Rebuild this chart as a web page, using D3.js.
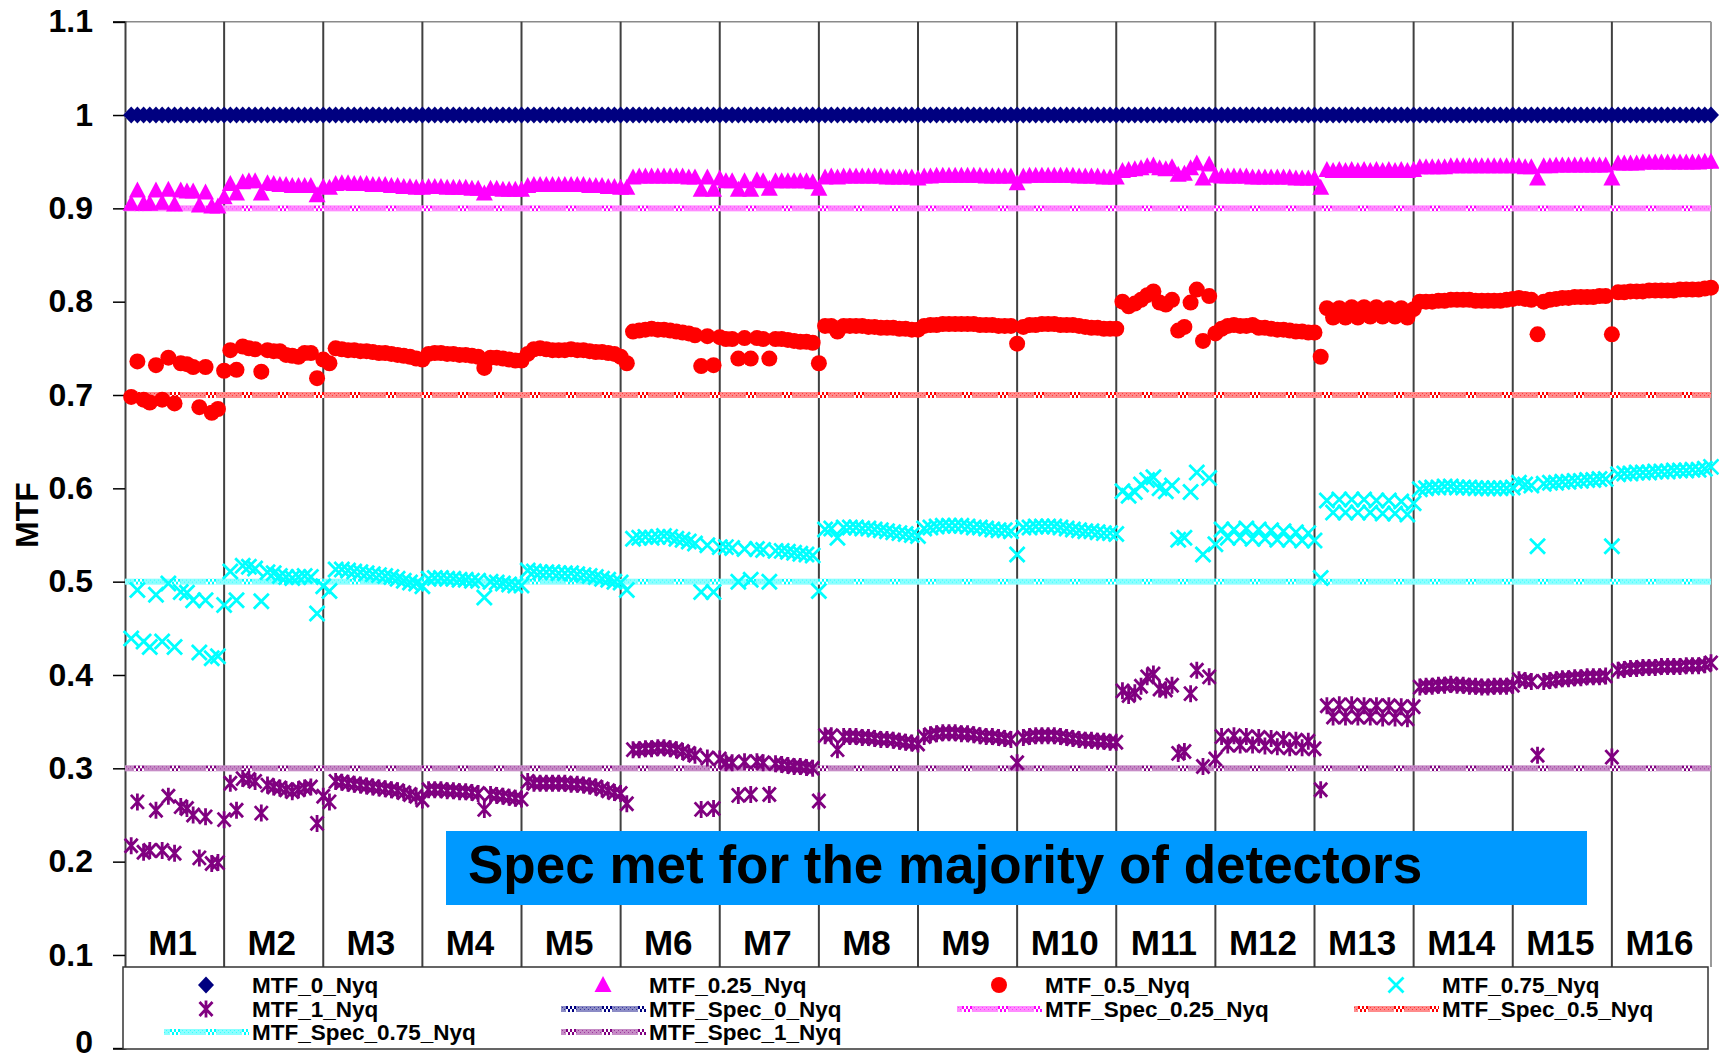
<!DOCTYPE html>
<html>
<head>
<meta charset="utf-8">
<script src="https://cdn.jsdelivr.net/npm/d3@7"></script>
<style>
  html, body { margin: 0; padding: 0; background: #fff; }
  svg { display: block; font-family: "Liberation Sans", Arial, Helvetica, sans-serif; font-weight: bold; }
</style>
</head>
<body>
<svg id="chart" width="1719" height="1060"></svg>
<script>
// Band names (16 detectors per band, detector index 1..256 across the x axis)
const bands = ["M1","M2","M3","M4","M5","M6","M7","M8","M9","M10","M11","M12","M13","M14","M15","M16"];
const yTicks = [0, 0.1, 0.2, 0.3, 0.4, 0.5, 0.6, 0.7, 0.8, 0.9, 1.0, 1.1];

// Measured MTF per detector, band by band
const mtf0 = [
  1,1,1,1,1,1,1,1,1,1,1,1,1,1,1,1,
  1,1,1,1,1,1,1,1,1,1,1,1,1,1,1,1,
  1,1,1,1,1,1,1,1,1,1,1,1,1,1,1,1,
  1,1,1,1,1,1,1,1,1,1,1,1,1,1,1,1,
  1,1,1,1,1,1,1,1,1,1,1,1,1,1,1,1,
  1,1,1,1,1,1,1,1,1,1,1,1,1,1,1,1,
  1,1,1,1,1,1,1,1,1,1,1,1,1,1,1,1,
  1,1,1,1,1,1,1,1,1,1,1,1,1,1,1,1,
  1,1,1,1,1,1,1,1,1,1,1,1,1,1,1,1,
  1,1,1,1,1,1,1,1,1,1,1,1,1,1,1,1,
  1,1,1,1,1,1,1,1,1,1,1,1,1,1,1,1,
  1,1,1,1,1,1,1,1,1,1,1,1,1,1,1,1,
  1,1,1,1,1,1,1,1,1,1,1,1,1,1,1,1,
  1,1,1,1,1,1,1,1,1,1,1,1,1,1,1,1,
  1,1,1,1,1,1,1,1,1,1,1,1,1,1,1,1,
  1,1,1,1,1,1,1,1,1,1,1,1,1,1,1,1
];
const mtf025 = [
  .905,.919,.905,.905,.919,.906,.920,.904,.919,.918,.918,.903,.917,.902,.902,.912,
  .926,.916,.928,.929,.929,.916,.927,.926,.925,.925,.924,.924,.924,.924,.914,.923,
  .922,.926,.927,.927,.926,.926,.926,.925,.925,.925,.924,.924,.923,.923,.922,.922,
  .923,.923,.923,.922,.922,.922,.922,.921,.921,.916,.921,.921,.920,.920,.920,.920,
  .924,.925,.925,.925,.925,.925,.925,.925,.925,.925,.924,.924,.924,.923,.923,.922,
  .922,.933,.934,.934,.934,.934,.934,.934,.934,.934,.933,.933,.920,.933,.920,.932,
  .929,.929,.920,.929,.920,.930,.929,.921,.929,.929,.929,.929,.929,.929,.928,.921,
  .933,.934,.933,.934,.934,.934,.934,.934,.934,.934,.933,.933,.933,.933,.933,.932,
  .934,.934,.935,.935,.935,.935,.935,.935,.935,.935,.934,.934,.934,.934,.934,.927,
  .934,.935,.935,.935,.935,.935,.935,.935,.935,.934,.934,.934,.934,.933,.933,.933,
  .940,.941,.942,.943,.945,.946,.943,.942,.944,.936,.937,.943,.948,.932,.947,.935,
  .934,.934,.934,.934,.934,.933,.933,.933,.933,.933,.933,.933,.932,.932,.932,.932,
  .922,.941,.940,.941,.940,.941,.940,.941,.940,.941,.940,.941,.940,.941,.940,.941,
  .944,.944,.944,.944,.944,.945,.945,.945,.945,.945,.945,.945,.945,.945,.945,.945,
  .945,.944,.944,.932,.945,.945,.946,.946,.946,.946,.946,.946,.946,.946,.946,.932,
  .948,.948,.948,.948,.949,.949,.949,.949,.949,.949,.949,.949,.949,.949,.950,.950
];
const mtf05 = [
  .698,.736,.695,.692,.732,.695,.740,.691,.734,.733,.730,.687,.730,.681,.685,.726,
  .748,.727,.752,.750,.749,.725,.748,.747,.747,.743,.742,.741,.745,.745,.718,.738,
  .734,.750,.749,.748,.748,.747,.747,.746,.745,.745,.744,.743,.742,.741,.739,.738,
  .744,.745,.745,.744,.744,.743,.743,.742,.741,.729,.740,.740,.739,.738,.737,.737,
  .744,.749,.750,.749,.748,.748,.748,.749,.748,.748,.747,.746,.746,.745,.744,.741,
  .734,.768,.769,.770,.771,.770,.770,.769,.768,.767,.766,.764,.731,.763,.732,.762,
  .760,.760,.739,.761,.739,.761,.760,.739,.760,.760,.759,.758,.757,.757,.756,.734,
  .774,.774,.768,.774,.774,.774,.774,.773,.773,.772,.772,.772,.771,.771,.770,.770,
  .774,.775,.775,.776,.776,.776,.776,.776,.776,.775,.775,.775,.774,.774,.774,.755,
  .773,.775,.775,.776,.776,.776,.775,.775,.775,.774,.773,.772,.772,.771,.771,.771,
  .800,.795,.798,.802,.807,.811,.799,.797,.802,.769,.773,.799,.813,.758,.806,.766,
  .771,.774,.775,.774,.774,.775,.772,.772,.771,.770,.770,.769,.768,.768,.767,.767,
  .741,.793,.783,.793,.783,.794,.783,.794,.784,.794,.784,.793,.784,.793,.783,.792,
  .800,.800,.800,.801,.801,.802,.802,.802,.802,.801,.801,.801,.801,.801,.802,.803,
  .804,.803,.802,.765,.800,.802,.803,.804,.804,.805,.805,.805,.805,.806,.806,.765,
  .810,.810,.811,.811,.811,.812,.812,.812,.812,.812,.813,.813,.813,.813,.814,.815
];
const mtf075 = [
  .439,.491,.436,.430,.486,.436,.498,.430,.489,.488,.480,.424,.480,.418,.420,.475,
  .511,.480,.517,.516,.514,.479,.510,.509,.506,.505,.504,.505,.506,.505,.466,.495,
  .490,.513,.513,.512,.511,.510,.509,.508,.507,.506,.505,.503,.501,.499,.498,.495,
  .503,.504,.504,.503,.503,.502,.502,.501,.501,.483,.500,.499,.498,.497,.496,.496,
  .512,.511,.510,.510,.510,.509,.509,.509,.508,.507,.506,.505,.503,.502,.500,.499,
  .491,.546,.547,.548,.547,.548,.549,.548,.546,.545,.543,.541,.489,.539,.489,.537,
  .537,.536,.500,.535,.502,.535,.534,.500,.533,.533,.532,.531,.530,.529,.528,.490,
  .556,.557,.547,.558,.558,.558,.557,.557,.556,.555,.554,.553,.552,.551,.550,.549,
  .557,.558,.559,.560,.560,.560,.560,.559,.558,.558,.557,.556,.555,.555,.554,.529,
  .558,.558,.559,.559,.559,.559,.558,.557,.556,.555,.554,.554,.553,.552,.552,.551,
  .597,.592,.596,.604,.609,.612,.600,.597,.603,.545,.547,.596,.617,.529,.611,.540,
  .556,.547,.556,.547,.557,.546,.556,.546,.555,.545,.554,.545,.553,.544,.552,.544,
  .504,.587,.574,.588,.574,.588,.574,.588,.574,.587,.573,.587,.573,.586,.572,.584,
  .599,.600,.601,.601,.602,.602,.601,.601,.601,.600,.600,.600,.600,.600,.600,.601,
  .606,.604,.603,.538,.605,.606,.606,.607,.607,.608,.608,.609,.609,.610,.610,.538,
  .615,.616,.616,.617,.617,.617,.618,.618,.618,.619,.619,.619,.620,.620,.621,.623
];
const mtf1 = [
  .217,.264,.210,.212,.255,.212,.270,.209,.259,.257,.250,.204,.248,.198,.199,.245,
  .284,.255,.289,.288,.286,.252,.282,.280,.279,.277,.275,.277,.279,.280,.241,.270,
  .264,.286,.285,.284,.283,.282,.281,.280,.279,.278,.277,.276,.274,.272,.270,.266,
  .277,.277,.277,.276,.276,.275,.275,.274,.273,.256,.272,.271,.270,.269,.268,.267,
  .286,.284,.284,.284,.284,.284,.284,.283,.283,.282,.281,.280,.278,.276,.274,.273,
  .262,.320,.320,.321,.321,.322,.322,.321,.320,.318,.316,.314,.256,.311,.257,.310,
  .306,.306,.271,.307,.272,.307,.306,.272,.305,.304,.303,.302,.302,.301,.300,.265,
  .335,.335,.320,.334,.334,.334,.333,.333,.332,.331,.331,.330,.329,.328,.327,.326,
  .334,.336,.337,.338,.338,.338,.337,.337,.336,.335,.334,.334,.333,.332,.331,.306,
  .333,.334,.335,.335,.335,.335,.334,.333,.332,.331,.330,.330,.329,.329,.328,.328,
  .383,.378,.381,.388,.398,.401,.385,.384,.389,.316,.318,.380,.405,.302,.398,.310,
  .334,.325,.335,.325,.334,.325,.333,.324,.332,.323,.331,.322,.330,.322,.329,.321,
  .277,.367,.355,.368,.355,.368,.355,.367,.355,.367,.354,.367,.354,.366,.353,.366,
  .387,.388,.388,.389,.389,.390,.389,.389,.388,.388,.387,.387,.388,.388,.388,.389,
  .395,.394,.393,.314,.393,.394,.395,.396,.396,.397,.397,.398,.398,.398,.399,.312,
  .405,.406,.407,.407,.408,.408,.408,.409,.409,.409,.409,.410,.410,.410,.411,.413
];

// Specification levels
const specValues = [1.0, 0.9, 0.7, 0.5, 0.3];
const seriesNames = ["MTF_0_Nyq", "MTF_0.25_Nyq", "MTF_0.5_Nyq", "MTF_0.75_Nyq", "MTF_1_Nyq"];
const specNames = ["MTF_Spec_0_Nyq", "MTF_Spec_0.25_Nyq", "MTF_Spec_0.5_Nyq", "MTF_Spec_0.75_Nyq", "MTF_Spec_1_Nyq"];
const annotation = "Spec met for the majority of detectors";

// ---- styling ----
const palette = ["#000080", "#ff00ff", "#ff0000", "#00ffff", "#800080"];
const markerKinds = ["diamond", "triangle", "circle", "cross", "star"];

const svg = d3.select("#chart");
const nDet = mtf0.length;
const x = d3.scaleLinear().domain([0, nDet]).range([125, 1711]);
const y = d3.scaleLinear().domain([0, 1.1]).range([1048.3, 21.7]);
const legendTop = 967, legendBottom = 1049;

const defs = svg.append("defs");
// Excel-like "dotted" thick line fill: a light fine band broken by a coarse checker
let patCount = 0;
function linePattern(color, yTop) {
  const id = "pat" + (patCount++);
  const p = defs.append("pattern").attr("id", id)
    .attr("patternUnits", "userSpaceOnUse")
    .attr("x", 0).attr("y", yTop).attr("width", 36).attr("height", 6);
  p.append("rect").attr("width", 36).attr("height", 6).attr("fill", "#fff");
  p.append("rect").attr("width", 26).attr("height", 6).attr("fill", color).attr("opacity", 0.45);
  for (let c = 0; c < 26; c += 2) {
    p.append("rect").attr("x", c).attr("y", (c / 2) % 2 ? 1 : 3).attr("width", 1).attr("height", 1)
      .attr("fill", color).attr("opacity", 0.6);
  }
  for (let c = 26, k = 0; c < 36; c += 2, k++) {
    p.append("rect").attr("x", c).attr("y", k % 2 ? 3 : 0).attr("width", 2).attr("height", 3).attr("fill", color);
  }
  return "url(#" + id + ")";
}

// ---- frame and band dividers ----
const g = svg.append("g");
g.append("line")
  .attr("x1", x(0) - 12).attr("x2", x(nDet))
  .attr("y1", y(1.1)).attr("y2", y(1.1))
  .attr("stroke", "#8a8a8a").attr("stroke-width", 1.5);

const dividers = d3.range(1, bands.length + 1).map(b => b * nDet / bands.length);
g.selectAll("line.div").data(dividers).join("line").attr("class", "div")
  .attr("x1", d => x(d)).attr("x2", d => x(d))
  .attr("y1", y(1.1)).attr("y2", legendTop)
  .attr("stroke", d => d === nDet ? "#9a9a9a" : "#404040")
  .attr("stroke-width", 2);

// ---- y axis ----
const yAxis = d3.axisLeft(y).tickValues(yTicks).tickFormat(d3.format(".1~f")).tickSize(12).tickPadding(20);
const ya = svg.append("g").attr("transform", `translate(${x(0)},0)`).call(yAxis);
ya.select(".domain").attr("stroke", "#404040").attr("stroke-width", 2);
ya.selectAll(".tick line").attr("stroke", "#000").attr("stroke-width", 1.5);
ya.selectAll(".tick text").attr("fill", "#000").attr("font-size", 32)
  .attr("font-family", "'Liberation Sans', Arial, sans-serif").attr("font-weight", "bold")
  .attr("dy", d => d === 0 ? "0.12em" : "0.32em");

svg.append("text")
  .attr("transform", "translate(38,515) rotate(-90)")
  .attr("text-anchor", "middle")
  .attr("font-size", 32).attr("fill", "#000")
  .text("MTF");

// ---- spec lines ----
const specG = svg.append("g");
specValues.forEach((v, k) => {
  specG.append("rect")
    .attr("x", x(0)).attr("width", x(nDet) - x(0))
    .attr("y", y(v) - 3).attr("height", 6)
    .attr("fill", linePattern(palette[k], y(v) - 3));
});

// ---- markers ----
function markerPath(kind) {
  switch (kind) {
    case "diamond":  return "M0,-8.5L8,0L0,8.5L-8,0Z";
    case "triangle": return "M0,-9L8.5,7L-8.5,7Z";
    case "cross":    return "M-7.5,-7.5L7.5,7.5M7.5,-7.5L-7.5,7.5";
    case "star":     return "M-6.5,-7L6.5,7M6.5,-7L-6.5,7M0,-8.5L0,8.5";
  }
  return null;
}
function drawMarker(sel, kind, color) {
  if (kind === "circle") {
    sel.append("circle").attr("r", 8).attr("fill", color);
  } else if (kind === "cross" || kind === "star") {
    sel.append("path").attr("d", markerPath(kind)).attr("fill", "none")
      .attr("stroke", color).attr("stroke-width", 2.8);
  } else {
    sel.append("path").attr("d", markerPath(kind)).attr("fill", color);
  }
}

const allSeries = [mtf0, mtf025, mtf05, mtf075, mtf1];
allSeries.forEach((vals, k) => {
  const sg = svg.append("g");
  const pts = sg.selectAll("g").data(vals.map((v, i) => ({ i: i + 1, v })))
    .join("g").attr("transform", d => `translate(${x(d.i)},${y(d.v)})`);
  pts.each(function () { drawMarker(d3.select(this), markerKinds[k], palette[k]); });
});

// ---- band labels ----
svg.append("g").selectAll("text").data(bands).join("text")
  .attr("x", (d, b) => x((b + 0.5) * nDet / bands.length) - 2)
  .attr("y", 955)
  .attr("text-anchor", "middle")
  .attr("font-size", 35).attr("fill", "#000")
  .text(d => d);

// ---- annotation box ----
svg.append("rect").attr("x", 446).attr("y", 831).attr("width", 1141).attr("height", 74).attr("fill", "#0099ff");
svg.append("text").attr("x", 468).attr("y", 883).attr("font-size", 53).attr("fill", "#000").text(annotation);

// ---- legend ----
const lg = svg.append("g");
lg.append("rect").attr("x", 123).attr("y", legendTop).attr("width", 1585).attr("height", legendBottom - legendTop)
  .attr("fill", "#fff").attr("stroke", "#333").attr("stroke-width", 1.5);
const colX = [252, 649, 1045, 1442];
const rowY = [985, 1009, 1032];
const entries = seriesNames.map((n, k) => ({ name: n, k, kind: "marker" }))
  .concat(specNames.map((n, k) => ({ name: n, k, kind: "line" })));
entries.forEach((e, idx) => {
  const cx = colX[idx % 4], cy = rowY[Math.floor(idx / 4)];
  if (e.kind === "marker") {
    const m = lg.append("g").attr("transform", `translate(${cx - 46},${cy})`);
    drawMarker(m, markerKinds[e.k], palette[e.k]);
  } else {
    lg.append("rect").attr("x", cx - 88).attr("width", 85).attr("y", cy - 3).attr("height", 6)
      .attr("fill", linePattern(palette[e.k], cy - 3));
  }
  lg.append("text").attr("x", cx).attr("y", cy).attr("dy", "0.36em")
    .attr("font-size", 22.5).attr("fill", "#000").text(e.name);
});
</script>
</body>
</html>
